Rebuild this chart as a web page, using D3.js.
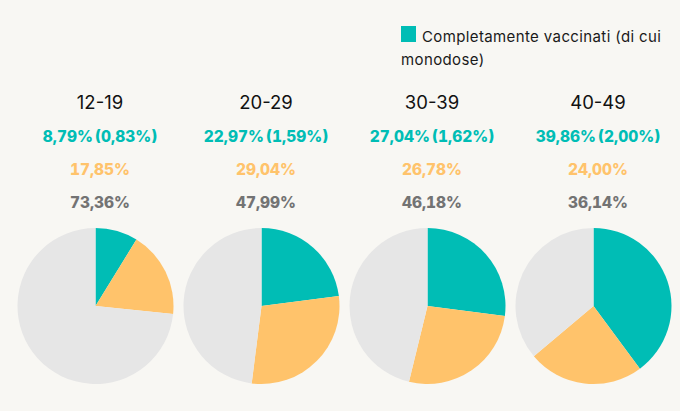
<!DOCTYPE html>
<html>
<head>
<meta charset="utf-8">
<script src="https://cdn.jsdelivr.net/npm/d3@7"></script>
<style>
html, body { margin: 0; padding: 0; background: #f8f7f3; }
svg { display: block; }
text { font-family: Inter, "Noto Sans", sans-serif; }
.legend { font-size: 15px; letter-spacing: 0.38px; fill: #1a1a1a; }
.age { font-size: 18.5px; fill: #111; text-anchor: middle; }
.pct { font-size: 15.5px; font-weight: 800; letter-spacing: 0; text-anchor: middle; font-variant-numeric: tabular-nums; }
.pct.full { word-spacing: -2px; }
</style>
</head>
<body>
<div class="chart"></div>
<script>
var svgWidth = 680;
var svgHeight = 411;

var ageGroups = ["12-19", "20-29", "30-39", "40-49"];
var fullyVaccinated = [8.79, 22.97, 27.04, 39.86];
var singleDose = [0.83, 1.59, 1.62, 2.00];
var partlyVaccinated = [17.85, 29.04, 26.78, 24.00];
var notVaccinated = [73.36, 47.99, 46.18, 36.14];
var legendLines = ["Completamente vaccinati (di cui", "monodose)"];

var teal = "#00bdb5";
var orange = "#ffc36b";
var grey = "#e6e6e6";
var greyText = "#737373";

var svg = d3.select(".chart")
  .append("svg")
  .attr("width", svgWidth)
  .attr("height", svgHeight);

// legend
svg.append("rect")
  .attr("x", 401)
  .attr("y", 26)
  .attr("width", 15)
  .attr("height", 16)
  .attr("fill", teal);

svg.append("text")
  .attr("class", "legend")
  .attr("x", 422)
  .attr("y", 42)
  .text(legendLines[0]);

svg.append("text")
  .attr("class", "legend")
  .attr("x", 401)
  .attr("y", 65)
  .text(legendLines[1]);

var fmt = d => d.toFixed(2).replace(".", ",") + "%";

// one column per age group
var pieX = d3.scalePoint().domain(ageGroups).range([95.5, 593.5]);

var pie = d3.pie().sort(null);
var arc = d3.arc().innerRadius(0).outerRadius(78);
var sliceColors = [teal, orange, grey];

ageGroups.forEach(function(age, i) {
  var cx = pieX(age);
  var labelX = cx + 4.5;

  svg.append("text")
    .attr("class", "age")
    .attr("x", labelX)
    .attr("y", 108.5)
    .text(age);

  svg.append("text")
    .attr("class", "pct full")
    .attr("x", labelX)
    .attr("y", 142)
    .attr("fill", teal)
    .text(fmt(fullyVaccinated[i]) + " (" + fmt(singleDose[i]) + ")");

  svg.append("text")
    .attr("class", "pct")
    .attr("x", labelX)
    .attr("y", 175)
    .attr("fill", orange)
    .text(fmt(partlyVaccinated[i]));

  svg.append("text")
    .attr("class", "pct")
    .attr("x", labelX)
    .attr("y", 208)
    .attr("fill", greyText)
    .text(fmt(notVaccinated[i]));

  var values = [fullyVaccinated[i], partlyVaccinated[i], notVaccinated[i]];
  svg.append("g")
    .attr("transform", `translate(${cx}, 306)`)
    .selectAll("path")
    .data(pie(values))
    .enter()
    .append("path")
    .attr("d", arc)
    .attr("fill", (d, j) => sliceColors[j]);
});
</script>
</body>
</html>
